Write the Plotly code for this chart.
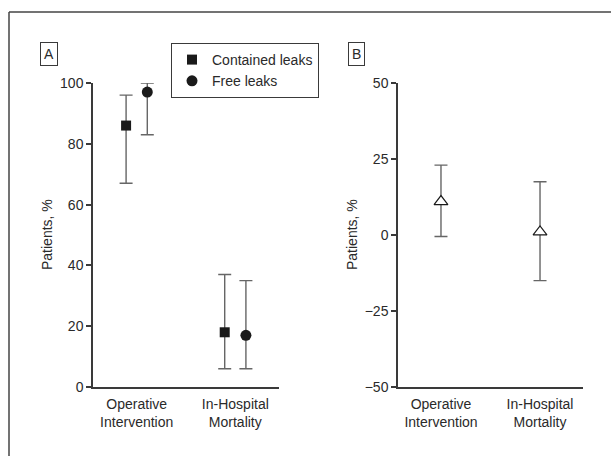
import plotly.graph_objects as go

categories = ["Operative Intervention", "In-Hospital Mortality"]
tick_labels = ["Operative<br>Intervention", "In-Hospital<br>Mortality"]

contained = [86, 18]
contained_lo = [67, 6]
contained_hi = [96, 37]

free = [97, 17]
free_lo = [83, 6]
free_hi = [100, 35]

diff = [11, 1]
diff_lo = [-0.5, -15]
diff_hi = [23, 17.5]

W, H = 611, 456
FONT = "Liberation Sans, Arial, sans-serif"
AX = "#3a3a3a"
EB = "#666666"
TXT = "#2a2a2a"


def px(x):
    return x / W


def py(y):
    return 1 - y / H


def err(v, lo, hi):
    return dict(type="data", symmetric=False,
                array=[h - c for h, c in zip(hi, v)],
                arrayminus=[c - l for c, l in zip(v, lo)],
                color=EB, thickness=1.4, width=6.5)


fig = go.Figure()
fig.add_trace(go.Scatter(
    x=categories, y=contained, mode="markers", name="Contained leaks",
    marker=dict(symbol="square", size=10, color="#1a1a1a"),
    error_y=err(contained, contained_lo, contained_hi),
    xaxis="x", yaxis="y"))
fig.add_trace(go.Scatter(
    x=categories, y=free, mode="markers", name="Free leaks",
    marker=dict(symbol="circle", size=11, color="#1a1a1a"),
    error_y=err(free, free_lo, free_hi),
    xaxis="x", yaxis="y"))
fig.add_trace(go.Scatter(
    x=categories, y=diff, mode="markers", name="Difference", showlegend=False,
    marker=dict(symbol="triangle-up", size=12, color="white",
                line=dict(color="#1a1a1a", width=1.2)),
    error_y=err(diff, diff_lo, diff_hi),
    xaxis="x2", yaxis="y2"))

ydom = [py(387), py(83)]
common_x = dict(type="category", showline=True, linecolor=AX, linewidth=1.5,
                ticks="", showgrid=False, zeroline=False, automargin=False,
                tickvals=categories, ticktext=tick_labels, ticklabelstandoff=3,
                tickfont=dict(family=FONT, size=14, color=TXT))
common_y = dict(showline=True, linecolor=AX, linewidth=1.5, ticks="outside",
                ticklen=5, tickcolor=AX, tickwidth=1.5, showgrid=False, automargin=False,
                zeroline=False, tickfont=dict(family=FONT, size=14, color=TXT))

fig.update_layout(
    width=W, height=H, margin=dict(l=0, r=0, t=0, b=0, autoexpand=False),
    paper_bgcolor="white", plot_bgcolor="white",
    scattermode="group", scattergap=0.57,
    xaxis=dict(common_x, domain=[px(93), px(279)], range=[-0.443, 1.443], anchor="y"),
    yaxis=dict(common_y, domain=ydom, range=[0, 100], tickvals=[0, 20, 40, 60, 80, 100], anchor="x"),
    xaxis2=dict(common_x, domain=[px(398), px(583)], range=[-0.434, 1.434], anchor="y2"),
    yaxis2=dict(common_y, domain=ydom, range=[-50, 50], tickvals=[-50, -25, 0, 25, 50],
                ticktext=["\u221250", "\u221225", "0", "25", "50"], anchor="x2"),
    legend=dict(x=px(171), y=py(43), xanchor="left", yanchor="top",
                bordercolor=AX, borderwidth=1, bgcolor="white",
                font=dict(family=FONT, size=14, color=TXT),
                itemwidth=30, tracegroupgap=0),
    showlegend=True,
    font=dict(family=FONT, size=14, color=TXT),
)

# Frame lines (top and left)
fig.add_shape(type="line", xref="paper", yref="paper", x0=px(9), x1=1.0, y0=py(12), y1=py(12),
              line=dict(color="#444", width=1.5))
fig.add_shape(type="line", xref="paper", yref="paper", x0=px(9), x1=px(9), y0=0, y1=py(12),
              line=dict(color="#444", width=1.5))

# Axis titles
for xc in (47, 352):
    fig.add_annotation(text="Patients, %", xref="paper", yref="paper", x=px(xc), y=py(235),
                       xanchor="center", yanchor="middle",
                       textangle=-90, showarrow=False, font=dict(family=FONT, size=14, color=TXT))

# Panel letters
for letter, xl in (("A", 49), ("B", 356)):
    fig.add_annotation(text=letter, xref="paper", yref="paper", x=px(xl), y=py(54.5),
                       xanchor="center", yanchor="middle",
                       showarrow=False, bordercolor=AX, borderwidth=1, borderpad=3,
                       font=dict(family=FONT, size=14, color=TXT))

fig.write_html("out.html", config={"displayModeBar": False},
               post_script="document.body.style.margin='0';")
